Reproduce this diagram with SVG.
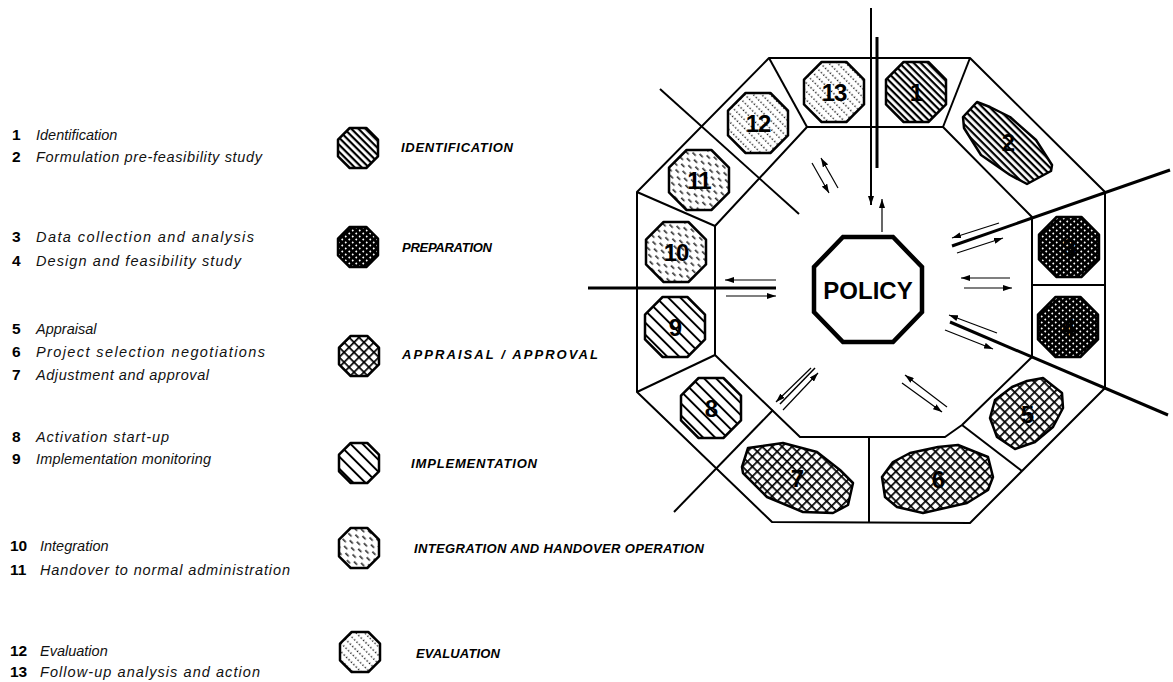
<svg xmlns="http://www.w3.org/2000/svg" width="1173" height="682" viewBox="0 0 1173 682">
<style>
.lt{font-family:"Liberation Sans",Arial,sans-serif;font-style:italic;font-size:14.5px;fill:#111}
.ln{font-family:"Liberation Sans",Arial,sans-serif;font-weight:bold;font-size:15.5px;fill:#000}
.lg{font-family:"Liberation Sans",Arial,sans-serif;font-weight:bold;font-style:italic;font-size:13px;fill:#000}
.num{font-family:"Liberation Sans",Arial,sans-serif;font-weight:bold;font-size:24px;fill:#000;text-anchor:middle;letter-spacing:-1px}
.pol{font-family:"Liberation Sans",Arial,sans-serif;font-weight:bold;font-size:24px;fill:#000;text-anchor:middle}
.ic{stroke:#000;stroke-width:2.5;stroke-linejoin:round}
.ring{fill:none;stroke:#000;stroke-width:2;stroke-linejoin:round}
.dv{stroke:#000;stroke-width:2;fill:none}
.tk{stroke:#000;stroke-width:3;fill:none}
.ar{stroke:#000;stroke-width:1.2;fill:none;marker-end:url(#ah)}
</style>
<defs>
<marker id="ah" markerUnits="userSpaceOnUse" markerWidth="9" markerHeight="6" refX="9" refY="3" orient="auto"><path d="M0,0 L9,3 L0,6 z" fill="#000"/></marker>
<pattern id="pIdent" width="5" height="5" patternUnits="userSpaceOnUse" patternTransform="rotate(45)"><rect width="5" height="5" fill="#fff"/><rect width="5" height="2.2" fill="#000"/></pattern>
<pattern id="pImpl" width="8.5" height="8.5" patternUnits="userSpaceOnUse" patternTransform="rotate(45)"><rect width="8.5" height="8.5" fill="#fff"/><rect width="8.5" height="1.9" fill="#000"/></pattern>
<pattern id="pApp" width="7" height="7" patternUnits="userSpaceOnUse" patternTransform="rotate(45)"><rect width="7" height="7" fill="#fff"/><rect width="7" height="1.7" fill="#000"/><rect width="1.7" height="7" fill="#000"/></pattern>
<pattern id="pPrep" width="7" height="6" patternUnits="userSpaceOnUse"><rect width="7" height="6" fill="#000"/><path d="M1.75,0.3 L2.9,1.5 L1.75,2.7 L0.6,1.5 z M5.25,3.3 L6.4,4.5 L5.25,5.7 L4.1,4.5 z" fill="#fff"/></pattern>
<pattern id="pInteg" width="12" height="8" patternUnits="userSpaceOnUse" patternTransform="rotate(45)"><rect width="12" height="8" fill="#fff"/><rect x="0" y="0.5" width="4.5" height="1.3" fill="#000"/><rect x="6" y="4.5" width="4.5" height="1.3" fill="#000"/></pattern>
<pattern id="pEval" width="3.4" height="6" patternUnits="userSpaceOnUse" patternTransform="rotate(45)"><rect width="3.4" height="6" fill="#fff"/><circle cx="1.2" cy="1.2" r="0.8" fill="#000"/></pattern>
</defs>

<g id="list">
<text class="ln" x="12" y="140">1</text><text class="lt" x="36" y="140">Identification</text>
<text class="ln" x="12" y="162">2</text><text class="lt" x="36" y="162" textLength="226" lengthAdjust="spacing">Formulation pre-feasibility study</text>
<text class="ln" x="12" y="242">3</text><text class="lt" x="36" y="242" textLength="218" lengthAdjust="spacing">Data collection and analysis</text>
<text class="ln" x="12" y="266">4</text><text class="lt" x="36" y="266" textLength="205" lengthAdjust="spacing">Design and feasibility study</text>
<text class="ln" x="12" y="334">5</text><text class="lt" x="36" y="334">Appraisal</text>
<text class="ln" x="12" y="357">6</text><text class="lt" x="36" y="357" textLength="229" lengthAdjust="spacing">Project selection negotiations</text>
<text class="ln" x="12" y="380">7</text><text class="lt" x="36" y="380" textLength="173" lengthAdjust="spacing">Adjustment and approval</text>
<text class="ln" x="12" y="442">8</text><text class="lt" x="36" y="442" textLength="133" lengthAdjust="spacing">Activation start-up</text>
<text class="ln" x="12" y="464">9</text><text class="lt" x="36" y="464" textLength="175" lengthAdjust="spacing">Implementation monitoring</text>
<text class="ln" x="10" y="551">10</text><text class="lt" x="40" y="551">Integration</text>
<text class="ln" x="10" y="575">11</text><text class="lt" x="40" y="575" textLength="250" lengthAdjust="spacing">Handover to normal administration</text>
<text class="ln" x="10" y="656">12</text><text class="lt" x="40" y="656">Evaluation</text>
<text class="ln" x="10" y="677">13</text><text class="lt" x="40" y="677" textLength="220" lengthAdjust="spacing">Follow-up analysis and action</text>
</g>

<g id="legend">
<g id="leg-ident"><polygon class="ic" fill="url(#pIdent)" transform="translate(358,148)" points="-8.3,-20 8.3,-20 20,-8.3 20,8.3 8.3,20 -8.3,20 -20,8.3 -20,-8.3"/><text class="lg" x="401" y="152" textLength="112" lengthAdjust="spacing">IDENTIFICATION</text></g>
<g id="leg-prep"><polygon class="ic" fill="url(#pPrep)" transform="translate(358,247)" points="-8.3,-20 8.3,-20 20,-8.3 20,8.3 8.3,20 -8.3,20 -20,8.3 -20,-8.3"/><text class="lg" x="402" y="252" textLength="90" lengthAdjust="spacing">PREPARATION</text></g>
<g id="leg-app"><polygon class="ic" fill="url(#pApp)" transform="translate(359,356)" points="-8.3,-20 8.3,-20 20,-8.3 20,8.3 8.3,20 -8.3,20 -20,8.3 -20,-8.3"/><text class="lg" x="402" y="359" textLength="196" lengthAdjust="spacing">APPRAISAL / APPROVAL</text></g>
<g id="leg-impl"><polygon class="ic" fill="url(#pImpl)" transform="translate(359,463)" points="-8.3,-20 8.3,-20 20,-8.3 20,8.3 8.3,20 -8.3,20 -20,8.3 -20,-8.3"/><text class="lg" x="411" y="468" textLength="126" lengthAdjust="spacing">IMPLEMENTATION</text></g>
<g id="leg-integ"><polygon class="ic" fill="url(#pInteg)" transform="translate(359,548)" points="-8.3,-20 8.3,-20 20,-8.3 20,8.3 8.3,20 -8.3,20 -20,8.3 -20,-8.3"/><text class="lg" x="414" y="553" textLength="290" lengthAdjust="spacing">INTEGRATION AND HANDOVER OPERATION</text></g>
<g id="leg-eval"><polygon class="ic" fill="url(#pEval)" transform="translate(360,652)" points="-8.3,-20 8.3,-20 20,-8.3 20,8.3 8.3,20 -8.3,20 -20,8.3 -20,-8.3"/><text class="lg" x="416" y="658" textLength="84" lengthAdjust="spacing">EVALUATION</text></g>
</g>

<g id="ring">
<polygon class="ring" points="769,58 970,58 1105,192 1105,388 970,523 772,522 637,392 637,192"/>
<polygon class="ring" points="807,127 943,127 1032,217 1032,357 962,425 945,437 800,437 715,355 715,226"/>
<line class="dv" x1="769" y1="58" x2="807" y2="127"/>
<line class="dv" x1="970" y1="58" x2="943" y2="127"/>
<line class="dv" x1="637" y1="192" x2="715" y2="226"/>
<line class="dv" x1="1032" y1="285" x2="1105" y2="285"/>
<line class="dv" x1="962" y1="425" x2="1022" y2="471"/>
<line class="dv" x1="637" y1="392" x2="715" y2="355"/>
<line class="dv" x1="869" y1="437" x2="869" y2="522"/>
</g>

<g id="policy">
<polygon points="843,237 893,237 922,267 922,312 893,342 843,342 814,312 814,267" fill="#fff" stroke="#000" stroke-width="4.5" stroke-linejoin="miter"/>
<text class="pol" x="868" y="299">POLICY</text>
</g>

<g id="s1"><polygon class="ic" fill="url(#pIdent)" transform="translate(916,92)" points="-12.4,-30 12.4,-30 30,-12.4 30,12.4 12.4,30 -12.4,30 -30,12.4 -30,-12.4"/><text class="num" x="916" y="101">1</text></g>
<g id="s2"><polygon class="ic" fill="url(#pIdent)" points="977,102 990,107 1010,117 1036,140 1052,165 1051,171 1027,184 1010,175 981,155 964,128 963,117"/><text class="num" x="1008" y="151">2</text></g>
<g id="s3"><polygon class="ic" fill="url(#pPrep)" transform="translate(1069,247)" points="-12.4,-30 12.4,-30 30,-12.4 30,12.4 12.4,30 -12.4,30 -30,12.4 -30,-12.4"/><text class="num" x="1069" y="256">3</text></g>
<g id="s4"><polygon class="ic" fill="url(#pPrep)" transform="translate(1068,327)" points="-12.4,-30 12.4,-30 30,-12.4 30,12.4 12.4,30 -12.4,30 -30,12.4 -30,-12.4"/><text class="num" x="1068" y="336">4</text></g>
<g id="s5"><polygon class="ic" fill="url(#pApp)" points="1043,378 1062,393 1063,408 1053,427 1035,442 1015,449 997,437 990,418 995,400 1012,387 1027,381"/><text class="num" x="1027" y="423">5</text></g>
<g id="s6"><polygon class="ic" fill="url(#pApp)" points="882,477 893,462 910,453 938,447 958,445 988,457 993,477 988,490 967,503 923,513 897,507 885,497"/><text class="num" x="938" y="488">6</text></g>
<g id="s7"><polygon class="ic" fill="url(#pApp)" points="748,448 783,443 817,452 840,470 853,483 848,505 833,513 803,512 767,497 743,473 742,467"/><text class="num" x="797" y="487">7</text></g>
<g id="s8"><polygon class="ic" fill="url(#pImpl)" transform="translate(711,408)" points="-12.4,-30 12.4,-30 30,-12.4 30,12.4 12.4,30 -12.4,30 -30,12.4 -30,-12.4"/><text class="num" x="711" y="417">8</text></g>
<g id="s9"><polygon class="ic" fill="url(#pImpl)" transform="translate(675,327)" points="-12.4,-30 12.4,-30 30,-12.4 30,12.4 12.4,30 -12.4,30 -30,12.4 -30,-12.4"/><text class="num" x="675" y="336">9</text></g>
<g id="s10"><polygon class="ic" fill="url(#pInteg)" transform="translate(676,252)" points="-12.4,-30 12.4,-30 30,-12.4 30,12.4 12.4,30 -12.4,30 -30,12.4 -30,-12.4"/><text class="num" x="676" y="261">10</text></g>
<g id="s11"><polygon class="ic" fill="url(#pInteg)" transform="translate(699,180)" points="-12.4,-30 12.4,-30 30,-12.4 30,12.4 12.4,30 -12.4,30 -30,12.4 -30,-12.4"/><text class="num" x="699" y="189">11</text></g>
<g id="s12"><polygon class="ic" fill="url(#pEval)" transform="translate(758,123)" points="-12.4,-30 12.4,-30 30,-12.4 30,12.4 12.4,30 -12.4,30 -30,12.4 -30,-12.4"/><text class="num" x="758" y="132">12</text></g>
<g id="s13"><polygon class="ic" fill="url(#pEval)" transform="translate(834,92)" points="-12.4,-30 12.4,-30 30,-12.4 30,12.4 12.4,30 -12.4,30 -30,12.4 -30,-12.4"/><text class="num" x="834" y="101">13</text></g>

<g id="connectors">
<line class="ar" x1="871" y1="8" x2="871" y2="205" style="stroke-width:2"/>
<line class="tk" x1="877" y1="37" x2="877" y2="168"/>
<line class="ar" x1="882" y1="232" x2="882" y2="199"/>
<line class="dv" x1="660" y1="89" x2="799" y2="214"/>
<line class="ar" x1="812" y1="163" x2="829" y2="193"/>
<line class="ar" x1="838" y1="188" x2="821" y2="158"/>
<line class="tk" x1="952" y1="246" x2="1170" y2="170"/>
<line class="ar" x1="999" y1="223" x2="952" y2="238"/>
<line class="ar" x1="957" y1="253" x2="1003" y2="238"/>
<line class="ar" x1="1010" y1="278" x2="961" y2="278"/>
<line class="ar" x1="964" y1="288" x2="1012" y2="288"/>
<line class="tk" x1="950" y1="322" x2="1168" y2="415"/>
<line class="ar" x1="997" y1="333" x2="949" y2="315"/>
<line class="ar" x1="945" y1="330" x2="993" y2="349"/>
<line class="ar" x1="947" y1="407" x2="905" y2="375"/>
<line class="ar" x1="902" y1="383" x2="942" y2="412"/>
<line class="dv" x1="674" y1="512" x2="773" y2="410"/>
<line class="ar" x1="811" y1="368" x2="776" y2="402"/>
<line class="dv" x1="815" y1="368" x2="780" y2="404" style="stroke-width:1.5"/>
<line class="ar" x1="783" y1="410" x2="818" y2="373"/>
<line class="tk" x1="588" y1="288" x2="776" y2="288"/>
<line class="ar" x1="776" y1="280" x2="725" y2="280"/>
<line class="ar" x1="726" y1="296" x2="776" y2="296"/>
</g>
</svg>
